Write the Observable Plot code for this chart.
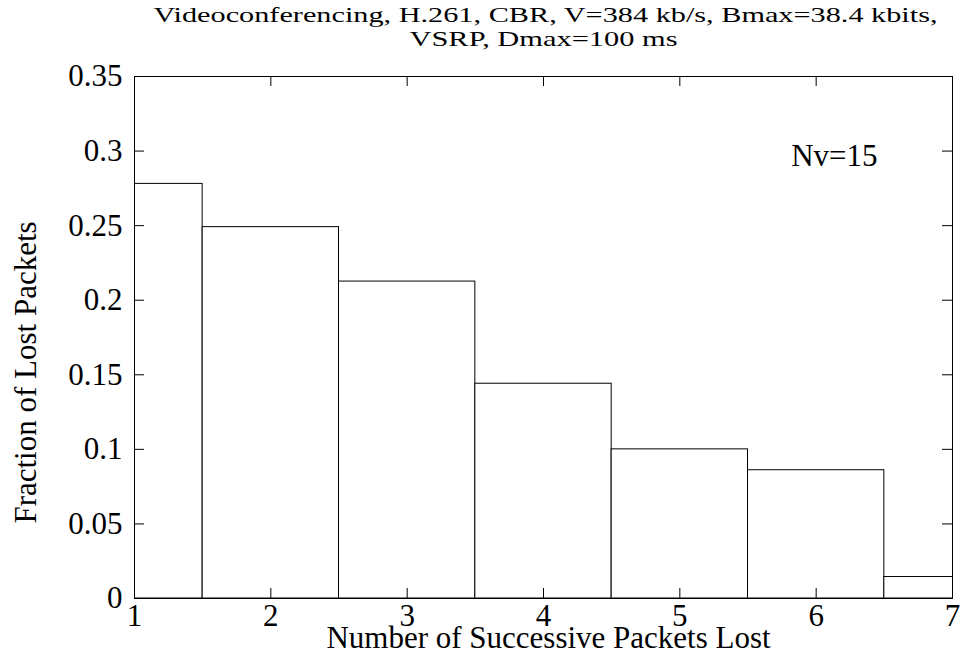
<!DOCTYPE html>
<html>
<head>
<meta charset="utf-8">
<script src="https://cdn.jsdelivr.net/npm/d3@7"></script>
<script src="https://cdn.jsdelivr.net/npm/@observablehq/plot@0.6"></script>
<style>
  html, body { margin: 0; padding: 0; background: #fff; }
  svg { display: block; }
</style>
</head>
<body>
<div id="chart"></div>
<script>
const lost = [1, 2, 3, 4, 5, 6, 7];
const fraction = [0.278, 0.249, 0.2125, 0.144, 0.100, 0.086, 0.0144];
const xTicks = [1, 2, 3, 4, 5, 6, 7];
const yTicks = [0, 0.05, 0.1, 0.15, 0.2, 0.25, 0.3, 0.35];
const yTickLabels = ["0", "0.05", "0.1", "0.15", "0.2", "0.25", "0.3", "0.35"];
const titleLines = ["Videoconferencing, H.261, CBR, V=384 kb/s, Bmax=38.4 kbits,", "VSRP, Dmax=100 ms"];
const xLabel = "Number of Successive Packets Lost";
const yLabel = "Fraction of Lost Packets";
const note = "Nv=15";

const bars = lost.map((k, i) => ({k, v: fraction[i]}));

const W = 963, H = 656;
const mL = 134, mR = 11, mT = 76, mB = 58;
const innerW = W - mL - mR, innerH = H - mT - mB;
const tick = 10;
const font = "Liberation Serif";
const fs = 31;
const yFmt = d => yTickLabels[yTicks.findIndex(t => Math.abs(t - d) < 1e-9)];

const chart = Plot.plot({
  width: W, height: H,
  marginLeft: mL, marginRight: mR, marginTop: mT, marginBottom: mB,
  style: {fontFamily: font, fontSize: fs + "px", color: "black", background: "white"},
  x: {domain: [1, 7], ticks: xTicks, tickFormat: d => String(d)},
  y: {domain: [0, 0.35], ticks: yTicks, tickFormat: yFmt},
  marks: [
    Plot.rectY(bars, {x1: d => d.k - 0.5, x2: d => d.k + 0.5, y: "v", fill: "white", stroke: "black", strokeWidth: 1, clip: true}),
    Plot.frame({stroke: "black", strokeWidth: 1}),
    Plot.tickX(xTicks, {x: d => d, insetTop: innerH - tick, stroke: "black", strokeWidth: 1}),
    Plot.tickX(xTicks, {x: d => d, insetBottom: innerH - tick, stroke: "black", strokeWidth: 1}),
    Plot.tickY(yTicks, {y: d => d, insetRight: innerW - tick, stroke: "black", strokeWidth: 1}),
    Plot.tickY(yTicks, {y: d => d, insetLeft: innerW - tick, stroke: "black", strokeWidth: 1}),
    Plot.axisX({ticks: xTicks, tickSize: 0, tickPadding: 5, label: null, fontSize: fs, fontFamily: font, tickFormat: d => String(d)}),
    Plot.axisY({ticks: yTicks, tickSize: 0, tickPadding: 12, label: null, fontSize: fs, fontFamily: font, tickFormat: yFmt}),
    Plot.text([xLabel], {text: d => d, frameAnchor: "bottom", textAnchor: "middle", lineAnchor: "top", dy: 27, dx: 5, fontSize: fs, fontFamily: font, fill: "black"}),
    Plot.text([yLabel], {text: d => d, frameAnchor: "left", textAnchor: "middle", lineAnchor: "top", rotate: -90, dx: -121, dy: 35, fontSize: fs, fontFamily: font, fill: "black"}),
    Plot.text([note], {text: d => d, frameAnchor: "top-right", textAnchor: "end", lineAnchor: "top", dx: -75, dy: 67, fontSize: fs, fontFamily: font, fill: "black"}),
    Plot.text([titleLines[0]], {text: d => d, frameAnchor: "top", textAnchor: "middle", lineAnchor: "top", dy: -70, dx: 2, fontSize: 22, fontFamily: font, fill: "black"}),
    Plot.text([titleLines[1]], {text: d => d, frameAnchor: "top", textAnchor: "middle", lineAnchor: "top", dy: -46.5, fontSize: 22, fontFamily: font, fill: "black"})
  ]
});

// stretch the title lines horizontally to match the reference proportions
const stretch = {[titleLines[0]]: 784, [titleLines[1]]: 268};
d3.select(chart).selectAll("text").each(function() {
  const t = this.textContent;
  if (stretch[t]) {
    d3.select(this).attr("textLength", stretch[t]).attr("lengthAdjust", "spacingAndGlyphs");
  }
});

document.getElementById("chart").appendChild(chart);
</script>
</body>
</html>
